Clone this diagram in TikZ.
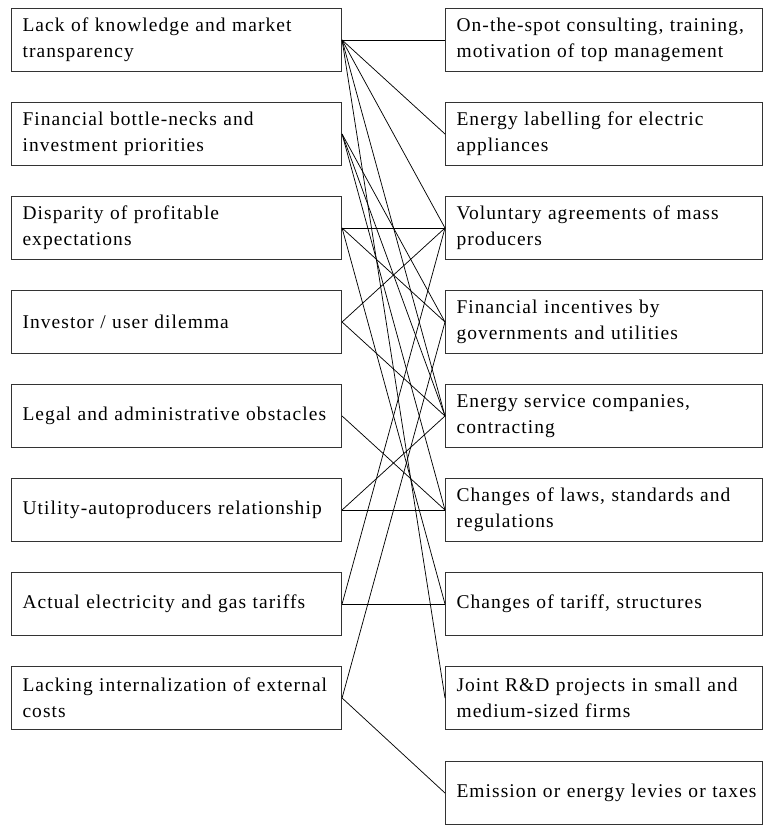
\documentclass[tikz,border=0pt]{standalone}
\usepackage{fontspec}
\setmainfont{Liberation Serif}[LetterSpace=5.5]
\begin{document}
\begin{tikzpicture}[x=0.75pt,y=-0.75pt,
  lbox/.style={draw=black!80, line width=0.8pt, anchor=west, minimum width=247.5pt, minimum height=47.5pt,
     text width=231pt, inner xsep=8.25pt, align=left, font=\fontsize{14.6pt}{19.5pt}\selectfont},
  rbox/.style={lbox, minimum width=237.75pt, text width=221.25pt},
  link/.style={line width=0.55pt, black}]
\useasboundingbox (0,0) rectangle (763,827);
\node[lbox] (L1) at (11,40)  {Lack of knowledge and market\\transparency};
\node[lbox] (L2) at (11,134) {Financial bottle-necks and\\investment priorities};
\node[lbox] (L3) at (11,228) {Disparity of profitable\\expectations};
\node[lbox] (L4) at (11,322) {Investor / user dilemma};
\node[lbox] (L5) at (11,416) {Legal and administrative obstacles};
\node[lbox] (L6) at (11,510) {Utility-autoproducers relationship};
\node[lbox] (L7) at (11,604) {Actual electricity and gas tariffs};
\node[lbox] (L8) at (11,698) {Lacking internalization of external\\costs};
\node[rbox] (R1) at (445,40)  {On-the-spot consulting, training,\\motivation of top management};
\node[rbox] (R2) at (445,134) {Energy labelling for electric\\appliances};
\node[rbox] (R3) at (445,228) {Voluntary agreements of mass\\producers};
\node[rbox] (R4) at (445,322) {Financial incentives by\\governments and utilities};
\node[rbox] (R5) at (445,416) {Energy service companies,\\contracting};
\node[rbox] (R6) at (445,510) {Changes of laws, standards and\\regulations};
\node[rbox] (R7) at (445,604) {Changes of tariff, structures};
\node[rbox] (R8) at (445,698) {Joint R\&D projects in small and\\medium-sized firms};
\node[rbox] (R9) at (445,793) {\mbox{Emission or energy levies or taxes}};
\foreach \a/\b in {L1/R1,L1/R2,L1/R3,L1/R5,L1/R8,
                   L2/R4,L2/R5,L2/R6,
                   L3/R3,L3/R4,L3/R7,
                   L4/R3,L4/R5,
                   L5/R6,
                   L6/R6,L6/R5,
                   L7/R7,L7/R3,
                   L8/R4,L8/R9}
  \draw[link] (\a.east) -- (\b.west);
\end{tikzpicture}
\end{document}
